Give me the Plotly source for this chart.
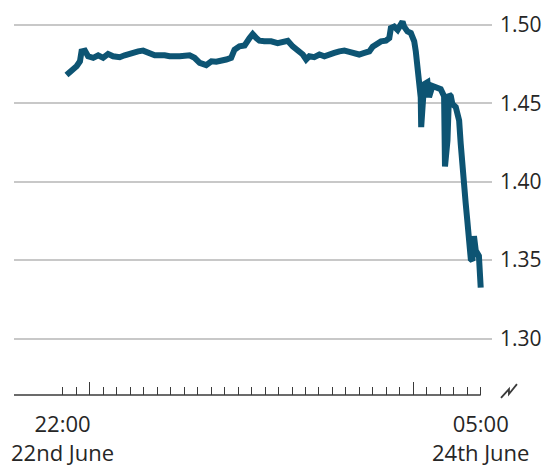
import plotly.graph_objects as go
import pandas as pd

# ---- data (GBP/USD) ----
times = [
    "2016-06-22 22:16", "2016-06-22 22:39", "2016-06-22 23:01", "2016-06-22 23:16",
    "2016-06-22 23:23", "2016-06-22 23:38", "2016-06-22 23:52",
    "2016-06-23 00:15", "2016-06-23 00:37", "2016-06-23 00:59", "2016-06-23 01:21",
    "2016-06-23 01:43", "2016-06-23 02:13", "2016-06-23 02:35", "2016-06-23 03:05",
    "2016-06-23 03:35", "2016-06-23 03:57", "2016-06-23 04:19", "2016-06-23 04:49",
    "2016-06-23 05:33", "2016-06-23 05:55", "2016-06-23 06:40", "2016-06-23 07:24",
    "2016-06-23 07:46", "2016-06-23 08:09", "2016-06-23 08:38", "2016-06-23 09:01",
    "2016-06-23 09:23", "2016-06-23 09:45", "2016-06-23 10:07", "2016-06-23 10:29",
    "2016-06-23 10:44", "2016-06-23 11:06", "2016-06-23 11:29", "2016-06-23 11:51",
    "2016-06-23 12:05", "2016-06-23 12:21", "2016-06-23 12:35", "2016-06-23 12:57",
    "2016-06-23 13:27", "2016-06-23 13:56", "2016-06-23 14:26", "2016-06-23 14:41",
    "2016-06-23 15:03", "2016-06-23 15:25", "2016-06-23 15:48", "2016-06-23 16:03",
    "2016-06-23 16:17", "2016-06-23 16:39", "2016-06-23 17:02", "2016-06-23 17:24",
    "2016-06-23 17:46", "2016-06-23 18:08", "2016-06-23 18:31", "2016-06-23 18:53",
    "2016-06-23 19:15", "2016-06-23 19:37", "2016-06-23 19:59", "2016-06-23 20:22",
    "2016-06-23 20:44", "2016-06-23 20:59", "2016-06-23 21:14", "2016-06-23 21:36",
    "2016-06-23 21:58", "2016-06-23 22:13", "2016-06-23 22:20", "2016-06-23 22:35",
    "2016-06-23 22:50", "2016-06-23 23:05", "2016-06-23 23:12", "2016-06-23 23:19",
    "2016-06-23 23:34", "2016-06-23 23:49",
    "2016-06-24 00:04", "2016-06-24 00:11", "2016-06-24 00:18", "2016-06-24 00:26",
    "2016-06-24 00:33", "2016-06-24 00:35", "2016-06-24 00:41", "2016-06-24 00:48",
    "2016-06-24 01:03", "2016-06-24 01:10", "2016-06-24 01:25", "2016-06-24 01:47",
    "2016-06-24 02:02", "2016-06-24 02:17", "2016-06-24 02:21", "2016-06-24 02:32",
    "2016-06-24 02:39", "2016-06-24 02:47", "2016-06-24 02:54", "2016-06-24 03:09",
    "2016-06-24 03:16", "2016-06-24 03:24", "2016-06-24 03:31", "2016-06-24 03:38",
    "2016-06-24 03:46", "2016-06-24 03:53", "2016-06-24 04:00", "2016-06-24 04:08",
    "2016-06-24 04:16", "2016-06-24 04:23", "2016-06-24 04:30", "2016-06-24 04:38",
    "2016-06-24 04:45", "2016-06-24 04:52", "2016-06-24 05:00",
]
gbp_usd = [
    1.4680, 1.4705, 1.4737, 1.4768, 1.4831, 1.4836, 1.4800,
    1.4790, 1.4806, 1.4790, 1.4815, 1.4800, 1.4794, 1.4806, 1.4821,
    1.4831, 1.4836, 1.4821, 1.4806, 1.4806, 1.4800, 1.4800, 1.4806,
    1.4790, 1.4758, 1.4743, 1.4768, 1.4765, 1.4768, 1.4779, 1.4790,
    1.4842, 1.4863, 1.4869, 1.4916, 1.4941, 1.4916, 1.4899, 1.4895,
    1.4895, 1.4884, 1.4895, 1.4899, 1.4863, 1.4842, 1.4811, 1.4779,
    1.4800, 1.4794, 1.4811, 1.4800, 1.4815, 1.4821, 1.4831, 1.4836,
    1.4828, 1.4815, 1.4811, 1.4821, 1.4831, 1.4861, 1.4874, 1.4895,
    1.4899, 1.4916, 1.4979, 1.4989, 1.4968, 1.5011, 1.5021, 1.4989,
    1.4958, 1.4948,
    1.4895, 1.4831, 1.4747, 1.4642, 1.4537, 1.4348, 1.4432, 1.4621,
    1.4634, 1.4539, 1.4610, 1.4600, 1.4590, 1.4545, 1.4097, 1.4263,
    1.4558, 1.4545, 1.4495, 1.4476, 1.4432, 1.4390, 1.4242, 1.4085,
    1.3990, 1.3864, 1.3758, 1.3624, 1.3506, 1.3497, 1.3653, 1.3561,
    1.3548, 1.3527, 1.3325,
]
y_ticks = [1.30, 1.35, 1.40, 1.45, 1.50]
y_tick_labels = ["1.30", "1.35", "1.40", "1.45", "1.50"]
x_label_times = ["2016-06-22 22:00", "2016-06-24 05:00"]
x_label_hours = ["22:00", "05:00"]
x_label_dates = ["22nd June", "24th June"]
major_ticks = ["2016-06-23 00:00", "2016-06-24 00:00"]

# ---- layout geometry ----
W, H = 552, 469
L, R, T, B = 14, 59, 10, 74
pw, ph = W - L - R, H - T - B

def px(x):
    return (x - L) / pw

def py(y):
    return (H - B - y) / ph

hour_ticks = pd.date_range(x_label_times[0], x_label_times[1], freq="h")
x_start = pd.Timestamp(x_label_times[0]) - pd.Timedelta(hours=3.628)
x_end = pd.Timestamp(x_label_times[0]) + pd.Timedelta(hours=31.838)

line_col = "#0d5473"
text_col = "#262626"
axis_col = "#3a3a3a"

fig = go.Figure()
fig.add_trace(go.Scatter(
    x=pd.to_datetime(times), y=gbp_usd, mode="lines",
    line=dict(color=line_col, width=6), hoverinfo="skip", showlegend=False,
))

fig.update_layout(
    width=W, height=H,
    margin=dict(l=L, r=R, t=T, b=B),
    paper_bgcolor="white", plot_bgcolor="white",
    font=dict(family="Open Sans", color=text_col),
    xaxis=dict(
        range=[x_start, x_end], showgrid=False, zeroline=False, showline=False,
        tickmode="array", tickvals=pd.to_datetime(major_ticks),
        ticks="inside", ticklen=13, tickwidth=1.2, tickcolor=axis_col,
        showticklabels=False,
        minor=dict(tickmode="array", tickvals=hour_ticks, ticks="inside",
                   ticklen=8, tickwidth=1.2, tickcolor=axis_col, showgrid=False),
    ),
    yaxis=dict(
        range=[1.2640, 1.5063], side="right", showgrid=True,
        gridcolor="#c8c8c8", gridwidth=2, zeroline=False, showline=False,
        tickmode="array", tickvals=y_ticks, ticktext=y_tick_labels,
        ticks="", tickfont=dict(size=21, color=text_col),
        ticklabelstandoff=7,
    ),
)

# baseline of the time axis
fig.add_shape(type="line", xref="x", yref="paper",
              x0=x_start, x1=pd.Timestamp(x_label_times[1]), y0=0, y1=0,
              line=dict(color=axis_col, width=1.3))

# axis break symbol
path = "M {:.4f} {:.4f} L {:.4f} {:.4f} L {:.4f} {:.4f} L {:.4f} {:.4f}".format(
    px(502), py(398), px(510), py(389), px(510), py(394), px(518), py(384))
fig.add_shape(type="path", xref="paper", yref="paper", path=path,
              line=dict(color=axis_col, width=1.8))

for t, hh, dd in zip(x_label_times, x_label_hours, x_label_dates):
    fig.add_annotation(x=pd.Timestamp(t), xref="x", yref="paper", y=py(438),
                       text=hh + "<br>" + dd, showarrow=False,
                       xanchor="center", yanchor="middle", align="center",
                       font=dict(size=22, color=text_col))

fig.write_html("out.html", config={"displayModeBar": False},
               post_script="document.body.style.margin='0';")
